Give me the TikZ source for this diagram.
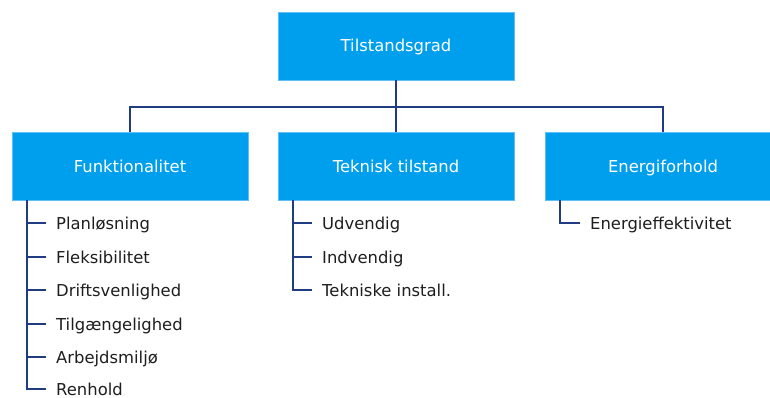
\documentclass[tikz,border=0pt]{standalone}
\usepackage{fontspec}
\setmainfont{DejaVu Sans}
\definecolor{boxblue}{RGB}{0,159,238}
\definecolor{boxedge}{RGB}{95,192,245}
\definecolor{linkblue}{RGB}{31,60,130}
\definecolor{itemtext}{RGB}{30,30,30}
\begin{document}
\begin{tikzpicture}[x=1pt,y=-1pt,
  catbox/.style={fill=boxblue,draw=boxedge,line width=0.6pt,text=white,
    minimum width=236pt,minimum height=68pt,inner sep=0pt,
    text height=12pt,text depth=0pt,font=\fontsize{16.4}{19}\selectfont},
  itemlbl/.style={anchor=west,inner xsep=10pt,inner ysep=0pt,text=itemtext,
    text height=13pt,text depth=0pt,font=\fontsize{16.4}{19}\selectfont},
  link/.style={draw=linkblue,line width=1.6pt}]
\useasboundingbox (0,0) rectangle (770,398);

\node[catbox] (top) at (396,46) {Tilstandsgrad};
\node[catbox] (fun) at (130,166) {Funktionalitet};
\node[catbox] (tek) at (396,166) {Teknisk tilstand};
\node[catbox] (ene) at (663,166) {Energiforhold};

\coordinate (bus) at (396,107);
\draw[link] (top.south) -- (tek.north);
\draw[link] (fun.north) |- (bus) -| (ene.north);

% Funktionalitet list
\coordinate (ft) at ([xshift=15pt]fun.south west);
\node[itemlbl] (f1) at (46,223) {Planløsning};
\node[itemlbl] (f2) at (46,257) {Fleksibilitet};
\node[itemlbl] (f3) at (46,290) {Driftsvenlighed};
\node[itemlbl] (f4) at (46,324) {Tilgængelighed};
\node[itemlbl] (f5) at (46,357) {Arbejdsmiljø};
\node[itemlbl] (f6) at (46,389) {Renhold};
\draw[link] (ft) |- (f6.west);
\foreach \n in {f1,f2,f3,f4,f5} \draw[link] (\n.west -| ft) -- (\n.west);

% Teknisk tilstand list
\coordinate (tt) at ([xshift=15pt]tek.south west);
\node[itemlbl] (t1) at (312,223) {Udvendig};
\node[itemlbl] (t2) at (312,257) {Indvendig};
\node[itemlbl] (t3) at (312,290) {Tekniske install.};
\draw[link] (tt) |- (t3.west);
\foreach \n in {t1,t2} \draw[link] (\n.west -| tt) -- (\n.west);

% Energiforhold list
\coordinate (et) at ([xshift=15pt]ene.south west);
\node[itemlbl] (e1) at (580,223) {Energieffektivitet};
\draw[link] (et) |- (e1.west);
\end{tikzpicture}
\end{document}
